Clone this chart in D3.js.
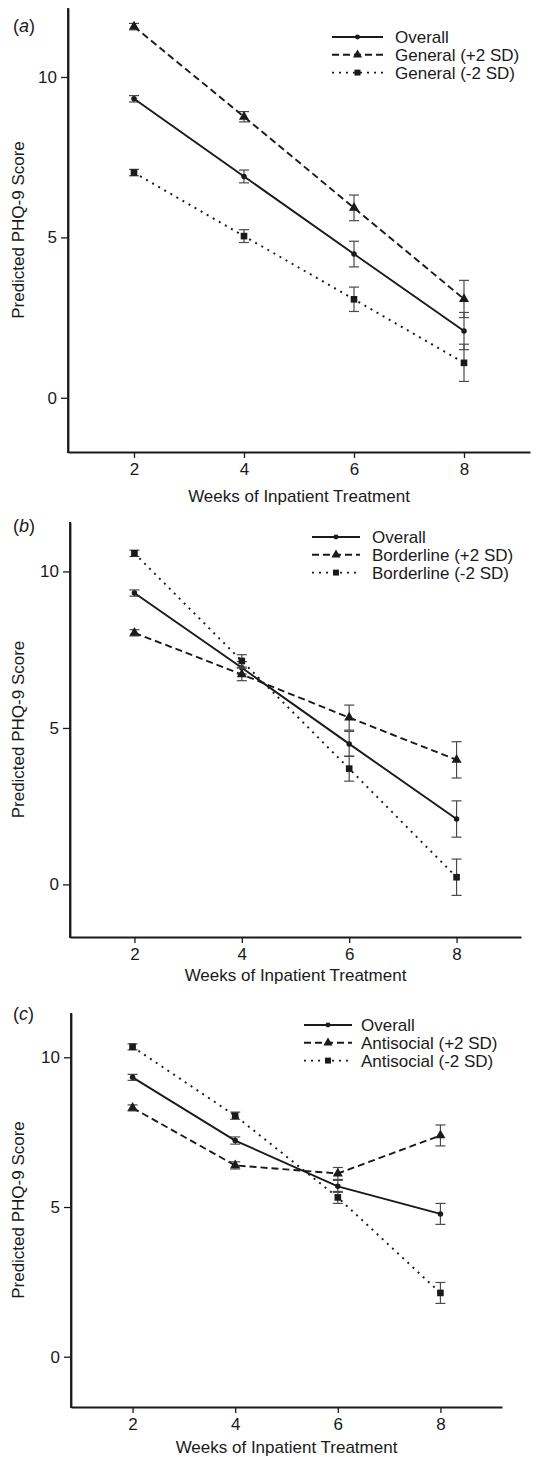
<!DOCTYPE html>
<html>
<head>
<meta charset="utf-8">
<script src="https://cdn.jsdelivr.net/npm/d3@7"></script>
<style>
  body { margin: 0; background: #fff; }
  svg { display: block; font-family: "Liberation Sans", Arial, sans-serif; }
</style>
</head>
<body>
<svg id="chart" width="536" height="1457"></svg>
<script>
// data
var weeks = [2, 4, 6, 8];

// panel (a): general
var overallA = [9.32, 6.9, 4.48, 2.08];
var generalHigh = [11.57, 8.76, 5.92, 3.08];
var generalLow = [7.02, 5.04, 3.07, 1.09];
var errA = [0.1, 0.2, 0.4, 0.58];
var errGeneralHigh = [0.1, 0.16, 0.4, 0.58];
var errGeneralLow = [0.1, 0.2, 0.38, 0.58];

// panel (b): borderline
var overallB = [9.31, 6.92, 4.49, 2.09];
var borderHigh = [8.04, 6.71, 5.33, 3.98];
var borderLow = [10.58, 7.14, 3.70, 0.23];
var errB = [0.1, 0.2, 0.4, 0.58];

// panel (c): antisocial
var overallC = [9.33, 7.22, 5.69, 4.77];
var antiHigh = [8.31, 6.39, 6.12, 7.39];
var antiLow = [10.35, 8.05, 5.32, 2.13];
var errC = [0.1, 0.12, 0.2, 0.35];

var yTicks = [0, 5, 10];
var xTicks = [2, 4, 6, 8];

var panels = [
  {label: "a", left: 68, right: 530, top: 8, bottom: 452, yDom: [-1.69, 12.15],
   titleY: 496, legX: 332, legY: 37, legLen: 51, legTx: 63,
   series: [
     {name: "Overall", vals: overallA, err: errA, dash: null, sym: d3.symbolCircle, size: 24},
     {name: "General (+2 SD)", vals: generalHigh, err: errGeneralHigh, dash: "7,4", sym: d3.symbolTriangle, size: 44},
     {name: "General (-2 SD)", vals: generalLow, err: errGeneralLow, dash: "2,5", sym: d3.symbolSquare, size: 44}
   ]},
  {label: "b", left: 70, right: 521, top: 522, bottom: 937, yDom: [-1.68, 11.58],
   titleY: 975, legX: 312, legY: 537, legLen: 48, legTx: 60,
   series: [
     {name: "Overall", vals: overallB, err: errB, dash: null, sym: d3.symbolCircle, size: 24},
     {name: "Borderline (+2 SD)", vals: borderHigh, err: errB, dash: "7,4", sym: d3.symbolTriangle, size: 44},
     {name: "Borderline (-2 SD)", vals: borderLow, err: errB, dash: "2,5", sym: d3.symbolSquare, size: 44}
   ]},
  {label: "c", left: 71, right: 502, top: 1013, bottom: 1407, yDom: [-1.68, 11.48],
   titleY: 1447, legX: 304, legY: 1025, legLen: 48, legTx: 57,
   series: [
     {name: "Overall", vals: overallC, err: errC, dash: null, sym: d3.symbolCircle, size: 24},
     {name: "Antisocial (+2 SD)", vals: antiHigh, err: errC, dash: "7,4", sym: d3.symbolTriangle, size: 44},
     {name: "Antisocial (-2 SD)", vals: antiLow, err: errC, dash: "2,5", sym: d3.symbolSquare, size: 44}
   ]}
];

var svg = d3.select("#chart");
var ink = "#1a1a1a";

panels.forEach(function (p) {
  var x = d3.scaleLinear().domain([0.8, 9.2]).range([p.left, p.right]);
  var y = d3.scaleLinear().domain(p.yDom).range([p.bottom, p.top]);
  var g = svg.append("g");

  // axes
  var yAxis = g.append("g")
    .attr("transform", "translate(" + p.left + ",0)")
    .call(d3.axisLeft(y).tickValues(yTicks).tickSize(7).tickPadding(4).tickSizeOuter(0));
  var xAxis = g.append("g")
    .attr("transform", "translate(0," + p.bottom + ")")
    .call(d3.axisBottom(x).tickValues(xTicks).tickSize(6).tickPadding(5).tickSizeOuter(0));
  [xAxis, yAxis].forEach(function (a) {
    a.select(".domain").attr("stroke", ink).attr("stroke-width", 1.8);
    a.selectAll(".tick line").attr("stroke", ink).attr("stroke-width", 1.3);
    a.selectAll(".tick text").attr("fill", ink).style("font-size", "17px")
      .style("font-family", "'Liberation Sans', Arial, sans-serif");
  });
  // close the corner
  g.append("line").attr("x1", p.left).attr("x2", p.left)
    .attr("y1", p.top).attr("y2", p.bottom + 0.9)
    .attr("stroke", ink).attr("stroke-width", 1.8);

  g.append("text")
    .attr("x", (p.left + p.right) / 2).attr("y", p.titleY)
    .attr("dy", "0.35em").attr("text-anchor", "middle")
    .attr("fill", ink).style("font-size", "17px")
    .text("Weeks of Inpatient Treatment");

  var ymid = (p.top + p.bottom) / 2;
  g.append("text")
    .attr("transform", "translate(18," + ymid + ") rotate(-90)")
    .attr("dy", "0.35em").attr("text-anchor", "middle")
    .attr("fill", ink).style("font-size", "17px")
    .text("Predicted PHQ-9 Score");

  var lab = g.append("text")
    .attr("x", 13).attr("y", p.legY - 11)
    .attr("dy", "0.35em").attr("fill", ink).style("font-size", "18px");
  lab.append("tspan").text("(");
  lab.append("tspan").style("font-style", "italic").text(p.label);
  lab.append("tspan").text(")");

  var line = d3.line().x(function (d) { return x(d[0]); }).y(function (d) { return y(d[1]); });

  p.series.forEach(function (s) {
    var pts = weeks.map(function (w, i) { return [w, s.vals[i], s.err[i]]; });

    // error bars
    var eb = g.append("g").attr("stroke", "#4a4a4a").attr("stroke-width", 1.2).attr("fill", "none");
    pts.forEach(function (d) {
      var cx = x(d[0]), lo = y(d[1] - d[2]), hi = y(d[1] + d[2]);
      eb.append("line").attr("x1", cx).attr("x2", cx).attr("y1", lo).attr("y2", hi);
      eb.append("line").attr("x1", cx - 5).attr("x2", cx + 5).attr("y1", lo).attr("y2", lo);
      eb.append("line").attr("x1", cx - 5).attr("x2", cx + 5).attr("y1", hi).attr("y2", hi);
    });

    g.append("path").datum(pts)
      .attr("d", line)
      .attr("fill", "none").attr("stroke", ink).attr("stroke-width", 1.9)
      .attr("stroke-dasharray", s.dash);

    g.selectAll(null).data(pts).enter().append("path")
      .attr("d", d3.symbol().type(s.sym).size(s.size))
      .attr("transform", function (d) { return "translate(" + x(d[0]) + "," + y(d[1]) + ")"; })
      .attr("fill", ink);
  });

  // legend
  var leg = g.append("g");
  p.series.forEach(function (s, i) {
    var ly = p.legY + i * 17.8;
    leg.append("line").attr("x1", p.legX).attr("x2", p.legX + p.legLen)
      .attr("y1", ly).attr("y2", ly)
      .attr("stroke", ink).attr("stroke-width", 1.9)
      .attr("stroke-dasharray", s.dash);
    leg.append("path")
      .attr("d", d3.symbol().type(s.sym).size(s.size * 0.8))
      .attr("transform", "translate(" + (p.legX + p.legLen / 2) + "," + ly + ")")
      .attr("fill", ink);
    leg.append("text")
      .attr("x", p.legX + p.legTx).attr("y", ly)
      .attr("dy", "0.35em").attr("fill", ink).style("font-size", "17px")
      .text(s.name);
  });
});
</script>
</body>
</html>
